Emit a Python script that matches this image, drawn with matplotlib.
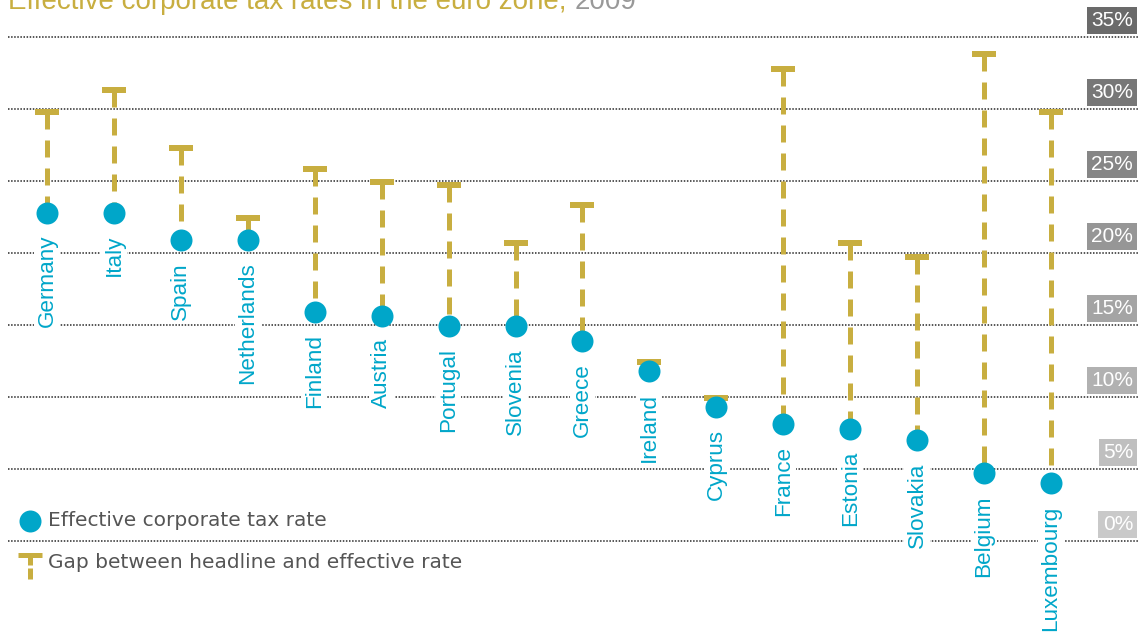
import matplotlib
matplotlib.use("Agg")
import matplotlib.pyplot as plt

plt.rcParams['lines.scale_dashes'] = False

countries = ['Germany', 'Italy', 'Spain', 'Netherlands', 'Finland', 'Austria', 'Portugal',
             'Slovenia', 'Greece', 'Ireland', 'Cyprus', 'France', 'Estonia', 'Slovakia',
             'Belgium', 'Luxembourg']
effective = [22.8, 22.8, 20.9, 20.9, 15.9, 15.6, 14.9, 14.9, 13.9, 11.8, 9.3, 8.1, 7.8, 7.0, 4.7, 4.0]
headline = [29.8, 31.3, 27.3, 22.4, 25.8, 24.9, 24.7, 20.7, 23.3, 12.4, 9.9, 32.8, 20.7, 19.7, 33.8, 29.8]
ytick_values = [0, 5, 10, 15, 20, 25, 30, 35]
ytick_labels = ['0%', '5%', '10%', '15%', '20%', '25%', '30%', '35%']
title_main = 'Effective corporate tax rates in the euro zone, '
title_year = '2009'
legend_labels = ['Effective corporate tax rate', 'Gap between headline and effective rate']

CYAN = '#00a6c9'
GOLD = '#c8ae40'
box_colors = ['#c9c9c9', '#bfbfbf', '#b1b1b1', '#a4a4a4', '#969696', '#868686', '#777777', '#6a6a6a']

W, H = 1142, 634
DPI = 100
PX = 72.0 / DPI  # points per pixel

fig = plt.figure(figsize=(W / DPI, H / DPI), dpi=DPI)
ax = fig.add_axes([0, 0, 1, 1])
ax.set_xlim(-0.702, 16.36)
ax.set_ylim(-6.46, 37.57)
ax.axis('off')

# gridlines
for v in ytick_values:
    ax.axhline(v, xmin=8 / W, xmax=1138 / W, color='#222222', lw=1.5 * PX,
               linestyle=(0, (1.5 * PX, 1.6 * PX)), zorder=1)

# tick labels in grey boxes
for v, lab, c in zip(ytick_values, ytick_labels, box_colors):
    ax.annotate(lab, xy=(1133 / W, v), xycoords=('axes fraction', 'data'),
                xytext=(0, 16.5 * PX), textcoords='offset points',
                ha='right', va='center', color='white', fontsize=15,
                family='Liberation Sans',
                bbox=dict(boxstyle='square,pad=0.2', facecolor=c, edgecolor='none'),
                zorder=5)

# gap lines
xs = list(range(len(countries)))
for i, (h, e) in enumerate(zip(headline, effective)):
    ax.plot([i, i], [h, e], color=GOLD, lw=5 * PX, solid_capstyle='butt',
            dash_capstyle='butt', linestyle=(0, (17 * PX, 11 * PX)), zorder=2)
ax.plot(xs, headline, linestyle='none', marker='_', markersize=24 * PX,
        markeredgewidth=6 * PX, color=GOLD, zorder=3)

# effective rate dots
ax.plot(xs, effective, linestyle='none', marker='o', markersize=22 * PX,
        color=CYAN, markeredgewidth=0, zorder=4)

# country labels
for i, (name, e) in enumerate(zip(countries, effective)):
    ax.annotate(name, xy=(i, e), xytext=(0, -22 * PX), textcoords='offset points',
                rotation=90, ha='center', va='top', color=CYAN, fontsize=16.2,
                family='Liberation Sans',
                bbox=dict(boxstyle='square,pad=0.1', facecolor='white', edgecolor='none'),
                zorder=4)

# title (partly cut off at top, as in the reference)
t1 = fig.text(8 / W, 1 - 9 / H, title_main, color=GOLD, fontsize=20,
              family='Liberation Sans', ha='left', va='baseline')
ax.annotate(title_year, xy=(1, 0), xycoords=t1, xytext=(0, 0), textcoords='offset points',
            color='#999999', fontsize=20, family='Liberation Sans', ha='left', va='bottom',
            annotation_clip=False)

# legend
ax.plot([30 / W], [1 - 521 / H], transform=ax.transAxes, marker='o', markersize=22 * PX,
        color=CYAN, markeredgewidth=0, linestyle='none', clip_on=False)
ax.text(48 / W, 1 - 521 / H, legend_labels[0], transform=ax.transAxes, ha='left',
        va='center', color='#555555', fontsize=14.5, family='DejaVu Sans')
ax.plot([30 / W, 30 / W], [1 - 554 / H, 1 - 580 / H], transform=ax.transAxes, color=GOLD,
        lw=5 * PX, linestyle=(0, (11 * PX, 3 * PX)), dash_capstyle='butt', clip_on=False)
ax.plot([30 / W], [1 - 554.5 / H], transform=ax.transAxes, marker='_', markersize=24 * PX,
        markeredgewidth=5 * PX, color=GOLD, linestyle='none', clip_on=False)
ax.text(48 / W, 1 - 562 / H, legend_labels[1], transform=ax.transAxes, ha='left',
        va='center', color='#555555', fontsize=14.5, family='DejaVu Sans')

fig.savefig('out.png', dpi=DPI)
